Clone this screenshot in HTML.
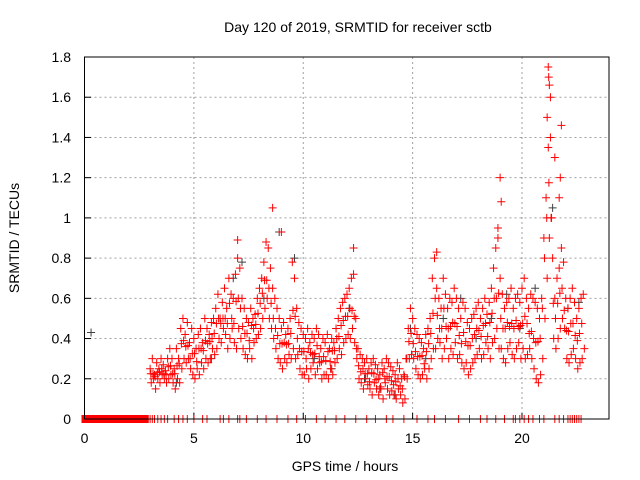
<!DOCTYPE html>
<html><head><meta charset="utf-8"><style>
body{margin:0;background:#fff}
svg{display:block;font-family:"Liberation Sans",sans-serif}
</style></head><body>
<svg id="c" width="640" height="480">
<rect width="640" height="480" fill="#fff"/>
<text x="358" y="32" font-size="14" text-anchor="middle" fill="#000">Day 120 of 2019, SRMTID for receiver sctb</text>
<text x="345" y="471" font-size="14" text-anchor="middle" fill="#000">GPS time / hours</text>
<text transform="translate(19,238) rotate(-90)" font-size="14" text-anchor="middle" fill="#000">SRMTID / TECUs</text>
<g id="grid"></g><g id="axes"></g><g id="marks"></g>
<rect x="84.5" y="57" width="524.5" height="362" fill="none" stroke="#000" stroke-width="1"/>
</svg>
<script>
const xTicks=[0,5,10,15,20];
const yTicks=[0,0.2,0.4,0.6,0.8,1,1.2,1.4,1.6,1.8];
const yTickLabels=["0","0.2","0.4","0.6","0.8","1","1.2","1.4","1.6","1.8"];
const t0=3.0, dt=0.1;
const upper=[.25,.3,.22,.28,.25,.3,.27,.24,.3,.35,
.3,.25,.35,.3,.45,.5,.42,.48,.38,.45,
.4,.35,.42,.45,.38,.5,.45,.42,.48,.5,
.55,.62,.5,.58,.65,.55,.7,.62,.6,.72,
.8,.75,.6,.55,.5,.48,.55,.5,.52,.6,
.65,.7,.78,.88,.85,.75,.65,.6,.55,.5,
.45,.48,.42,.45,.5,.78,.7,.55,.48,.45,
.42,.4,.45,.38,.42,.4,.45,.42,.35,.4,
.38,.42,.35,.4,.38,.45,.5,.55,.58,.6,
.62,.65,.7,.72,.5,.35,.32,.3,.28,.3,
.25,.28,.3,.27,.25,.22,.28,.25,.3,.28,
.26,.24,.22,.28,.25,.2,.22,.3,.45,.55,
.5,.45,.42,.4,.38,.35,.42,.45,.5,.7,
.8,.65,.6,.55,.7,.62,.55,.6,.58,.65,
.6,.55,.5,.58,.55,.48,.45,.5,.52,.55,
.58,.5,.55,.6,.52,.58,.65,.75,.85,.9,
.7,.62,.55,.58,.6,.65,.55,.6,.62,.58,
.65,.7,.6,.55,.62,.6,.58,.55,.5,.6,
.9,1.1,1.35,1.6,.8,.6,.7,.75,.85,.78,
.6,.55,.6,.65,.58,.5,.55,.6,.62];
const lower=[.18,.2,.15,.2,.18,.22,.2,.18,.2,.22,
.18,.15,.2,.18,.25,.3,.28,.3,.25,.22,
.2,.25,.22,.28,.25,.3,.28,.3,.35,.32,
.35,.4,.38,.45,.42,.35,.4,.45,.38,.35,
.45,.4,.35,.32,.3,.35,.3,.38,.4,.42,
.45,.5,.55,.6,.5,.45,.4,.35,.3,.28,
.25,.3,.28,.32,.3,.35,.3,.32,.25,.22,
.22,.25,.2,.25,.28,.22,.25,.28,.2,.22,
.22,.2,.25,.22,.28,.3,.35,.32,.38,.4,
.42,.4,.45,.38,.3,.2,.18,.15,.2,.17,
.15,.12,.18,.15,.12,.15,.1,.18,.15,.12,
.14,.12,.1,.15,.12,.08,.1,.2,.3,.32,
.3,.25,.22,.2,.22,.25,.2,.25,.3,.35,
.35,.4,.38,.3,.35,.4,.3,.35,.32,.38,
.3,.32,.28,.25,.28,.22,.25,.28,.3,.32,
.35,.3,.32,.38,.35,.3,.38,.4,.45,.35,
.35,.3,.28,.35,.38,.32,.3,.35,.38,.3,
.35,.3,.32,.35,.3,.25,.2,.18,.22,.3,
.5,.7,.9,1.0,.4,.35,.4,.45,.5,.45,
.3,.28,.32,.35,.3,.25,.28,.3,.35];
const outlierTimes=[8.6,9.0,12.3,19.0,19.05,21.2,21.22,21.25,21.15,21.3,21.5,21.8,21.75,21.7,7.0,16.1,18.9];
const outlierValues=[1.05,.93,.85,1.2,1.08,1.75,1.7,1.66,1.5,1.4,1.3,1.46,1.2,1.1,.89,.83,.95];
const blackTimes=[0.3,4.2,5.8,6.8,7.2,8.2,8.9,9.6,10.5,11.3,12.1,12.8,13.5,14.2,14.9,15.6,16.4,17.2,17.9,18.6,19.3,19.9,20.6,21.4,22.1,22.6];
const blackValues=[.43,.18,.3,.7,.78,.6,.93,.8,.3,.25,.55,.2,.15,.12,.45,.3,.5,.6,.4,.5,.62,.45,.65,1.05,.55,.58];
const zeroTimes=[3.0,3.1,3.2,3.35,3.5,3.65,3.8,4.1,4.3,4.5,4.7,5.0,5.4,5.6,6.2,6.35,6.6,7.0,7.1,7.4,7.9,8.3,8.8,9.3,9.7,10.1,10.6,11.0,11.5,11.9,12.4,12.9,13.3,13.8,14.1,14.6,15.2,15.7,16.0,16.5,17.1,17.6,18.1,18.4,18.8,19.2,19.6,19.7,19.9,20.1,20.3,20.5,20.8,21.0,21.5,21.7,21.9,22.1,22.2,22.3,22.4,22.5,22.6,22.7];
const zeroBandEnd=2.8;

const X=h=>84.5+h*(522-84.5)/20;
const Y=v=>419-v*362/1.8;
const NS="http://www.w3.org/2000/svg";
function mk(tag,attrs,parent){const e=document.createElementNS(NS,tag);for(const k in attrs)e.setAttribute(k,attrs[k]);parent.appendChild(e);return e;}
const grid=document.getElementById('grid'),axes=document.getElementById('axes'),marks=document.getElementById('marks');
xTicks.forEach(h=>{
  if(h>0){const g=mk('line',{x1:X(h),x2:X(h),y1:57,y2:419,stroke:'#a0a0a0','stroke-dasharray':'2,3'},grid);
  
  }
  mk('line',{x1:X(h),x2:X(h),y1:419,y2:413,stroke:'#000'},axes);
  const t=mk('text',{x:X(h),y:443,'font-size':14,'text-anchor':'middle'},axes);t.textContent=h;
  
  
});
yTicks.forEach((v,i)=>{
  if(v>0&&v<1.8){const g=mk('line',{x1:84.5,x2:609,y1:Y(v),y2:Y(v),stroke:'#a0a0a0','stroke-dasharray':'2,3'},grid);
  
  }
  mk('line',{x1:84.5,x2:91,y1:Y(v),y2:Y(v),stroke:'#000'},axes);
  const t=mk('text',{x:71,y:Y(v)+5,'font-size':14,'text-anchor':'end'},axes);t.textContent=yTickLabels[i];
  
  
});
function plus(h,v,col,name){
  const x=X(h),y=Y(v);
  const p=mk('path',{d:`M${x-4},${y}h8M${x},${y-4}v8`,stroke:col,'stroke-width':1,fill:'none'},marks);
  
  
}
const band=mk('rect',{x:X(0)-3,y:Y(0)-4,width:X(zeroBandEnd)-X(0)+6,height:8,fill:'#ff0000'},marks);


zeroTimes.forEach(h=>plus(h,0,'#ff0000','zero-point'));
blackTimes.forEach((h,i)=>plus(h,blackValues[i],'#404040','black-point'));
upper.forEach((v,i)=>plus(t0+i*dt,v,'#ff0000','upper-point'));
lower.forEach((v,i)=>plus(t0+i*dt+0.05,v,'#ff0000','lower-point'));
upper.forEach((v,i)=>{if(i+1<upper.length)plus(t0+i*dt+0.03,(v+lower[i+1])/2,'#ff0000','mid-point');});
outlierTimes.forEach((h,i)=>plus(h,outlierValues[i],'#ff0000','outlier-point'));
</script>
</body></html>
